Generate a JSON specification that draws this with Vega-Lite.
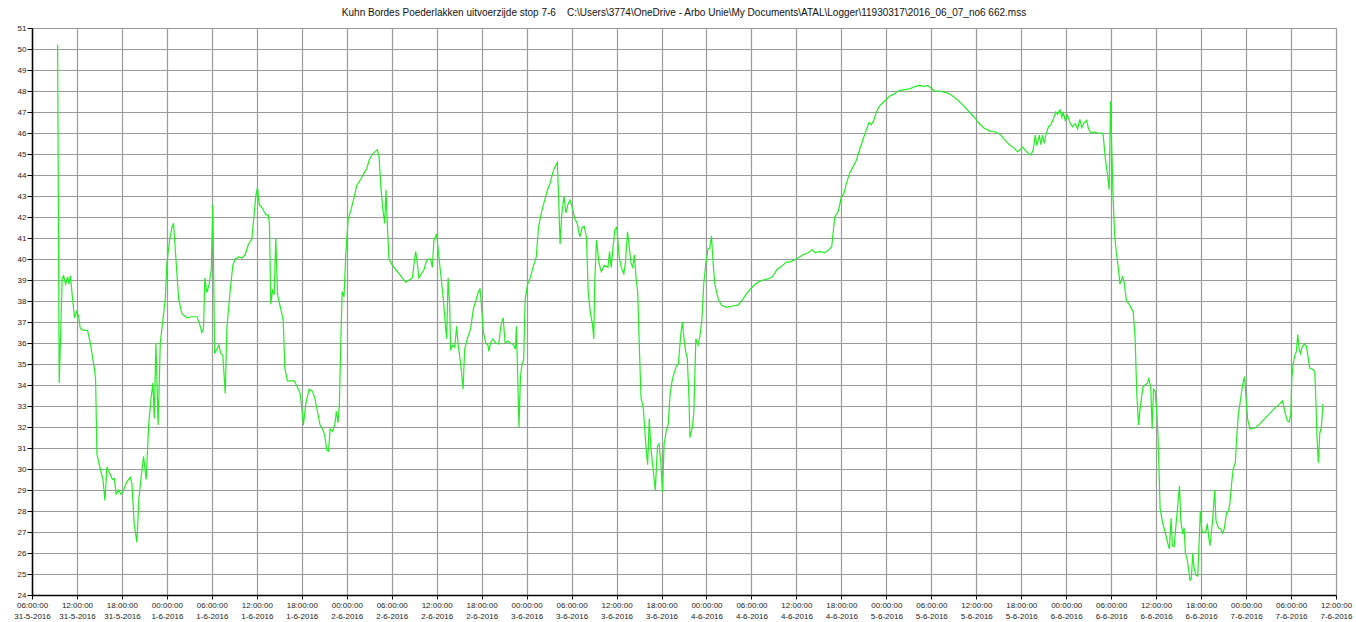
{
  "$schema": "https://vega.github.io/schema/vega-lite/v6.json",
  "autosize": "none",
  "width": 1304,
  "height": 567,
  "padding": {"left": 32, "top": 28, "right": 20, "bottom": 27},
  "background": "white",
  "title": {
    "text": "Kuhn Bordes  Poederlakken uitvoerzijde stop 7-6\u00a0\u00a0\u00a0\u00a0C:\\Users\\3774\\OneDrive - Arbo Unie\\My Documents\\ATAL\\Logger\\11930317\\2016_06_07_no6 662.mss",
    "font": "Liberation Sans Narrow, Liberation Sans, sans-serif",
    "fontSize": 10,
    "fontWeight": "normal",
    "color": "#111111",
    "anchor": "middle",
    "offset": 6
  },
  "config": {"view": {"stroke": null}},
  "data": {"values": [
    {"t":"2016-05-31T09:25","v":50.2},{"t":"2016-05-31T09:38","v":34.1},{"t":"2016-05-31T10:02","v":39.1},{"t":"2016-05-31T10:13","v":39.2},{"t":"2016-05-31T10:29","v":38.8},{"t":"2016-05-31T10:46","v":39.15},{"t":"2016-05-31T10:56","v":38.8},{"t":"2016-05-31T11:07","v":39.2},{"t":"2016-05-31T11:17","v":38.6},{"t":"2016-05-31T11:28","v":37.9},{"t":"2016-05-31T11:41","v":37.2},{"t":"2016-05-31T11:55","v":37.5},{"t":"2016-05-31T12:13","v":37.3},{"t":"2016-05-31T12:26","v":36.7},{"t":"2016-05-31T12:53","v":36.6},{"t":"2016-05-31T13:25","v":36.6},{"t":"2016-05-31T13:47","v":36.0},{"t":"2016-05-31T14:08","v":35.2},{"t":"2016-05-31T14:19","v":34.8},{"t":"2016-05-31T14:29","v":34.3},{"t":"2016-05-31T14:40","v":30.7},{"t":"2016-05-31T15:07","v":30.0},{"t":"2016-05-31T15:28","v":29.5},{"t":"2016-05-31T15:44","v":28.5},{"t":"2016-05-31T16:00","v":30.1},{"t":"2016-05-31T16:22","v":29.8},{"t":"2016-05-31T16:43","v":29.5},{"t":"2016-05-31T16:59","v":29.55},{"t":"2016-05-31T17:14","v":28.8},{"t":"2016-05-31T17:34","v":29.0},{"t":"2016-05-31T17:52","v":28.8},{"t":"2016-05-31T18:13","v":29.0},{"t":"2016-05-31T18:40","v":29.4},{"t":"2016-05-31T19:07","v":29.6},{"t":"2016-05-31T19:20","v":29.3},{"t":"2016-05-31T19:38","v":27.4},{"t":"2016-05-31T20:00","v":26.5},{"t":"2016-05-31T20:16","v":28.6},{"t":"2016-05-31T20:32","v":29.5},{"t":"2016-05-31T20:53","v":30.6},{"t":"2016-05-31T21:14","v":29.5},{"t":"2016-05-31T21:34","v":32.1},{"t":"2016-05-31T21:52","v":33.3},{"t":"2016-05-31T22:08","v":34.1},{"t":"2016-05-31T22:19","v":32.4},{"t":"2016-05-31T22:32","v":36.0},{"t":"2016-05-31T22:50","v":32.1},{"t":"2016-05-31T23:07","v":36.0},{"t":"2016-05-31T23:28","v":37.1},{"t":"2016-05-31T23:47","v":38.1},
    {"t":"2016-06-01T00:00","v":39.8},{"t":"2016-06-01T00:22","v":40.9},{"t":"2016-06-01T00:40","v":41.5},{"t":"2016-06-01T00:53","v":41.7},{"t":"2016-06-01T01:10","v":40.2},{"t":"2016-06-01T01:34","v":38.1},{"t":"2016-06-01T02:00","v":37.4},{"t":"2016-06-01T02:40","v":37.2},{"t":"2016-06-01T03:20","v":37.25},{"t":"2016-06-01T04:00","v":37.25},{"t":"2016-06-01T04:22","v":36.9},{"t":"2016-06-01T04:40","v":36.5},{"t":"2016-06-01T04:53","v":36.7},{"t":"2016-06-01T05:04","v":39.1},{"t":"2016-06-01T05:20","v":38.4},{"t":"2016-06-01T05:38","v":38.8},{"t":"2016-06-01T05:55","v":39.5},{"t":"2016-06-01T06:08","v":42.6},{"t":"2016-06-01T06:22","v":35.5},{"t":"2016-06-01T06:40","v":35.7},{"t":"2016-06-01T06:56","v":35.9},{"t":"2016-06-01T07:12","v":35.5},{"t":"2016-06-01T07:28","v":35.4},{"t":"2016-06-01T07:47","v":33.6},{"t":"2016-06-01T08:00","v":36.7},{"t":"2016-06-01T08:26","v":38.45},{"t":"2016-06-01T08:48","v":39.7},{"t":"2016-06-01T09:07","v":40.0},{"t":"2016-06-01T09:34","v":40.1},{"t":"2016-06-01T10:00","v":40.05},{"t":"2016-06-01T10:26","v":40.2},{"t":"2016-06-01T10:53","v":40.7},{"t":"2016-06-01T11:20","v":40.95},{"t":"2016-06-01T11:52","v":43.0},{"t":"2016-06-01T12:05","v":43.4},{"t":"2016-06-01T12:19","v":42.6},{"t":"2016-06-01T12:46","v":42.4},{"t":"2016-06-01T13:12","v":42.1},{"t":"2016-06-01T13:31","v":42.1},{"t":"2016-06-01T13:41","v":41.7},{"t":"2016-06-01T13:52","v":37.85},{"t":"2016-06-01T14:05","v":38.5},{"t":"2016-06-01T14:19","v":38.3},{"t":"2016-06-01T14:32","v":41.0},{"t":"2016-06-01T14:46","v":38.3},{"t":"2016-06-01T15:12","v":37.6},{"t":"2016-06-01T15:31","v":37.1},{"t":"2016-06-01T15:44","v":34.8},{"t":"2016-06-01T16:05","v":34.2},{"t":"2016-06-01T16:32","v":34.2},{"t":"2016-06-01T16:59","v":34.2},{"t":"2016-06-01T17:25","v":33.9},{"t":"2016-06-01T17:47","v":33.6},{"t":"2016-06-01T18:00","v":32.9},{"t":"2016-06-01T18:13","v":32.1},{"t":"2016-06-01T18:32","v":33.1},{"t":"2016-06-01T18:59","v":33.8},{"t":"2016-06-01T19:25","v":33.7},{"t":"2016-06-01T19:44","v":33.4},{"t":"2016-06-01T20:05","v":32.75},{"t":"2016-06-01T20:26","v":32.1},{"t":"2016-06-01T20:46","v":31.9},{"t":"2016-06-01T21:04","v":31.6},{"t":"2016-06-01T21:20","v":30.9},{"t":"2016-06-01T21:34","v":30.85},{"t":"2016-06-01T21:47","v":31.9},{"t":"2016-06-01T22:05","v":31.8},{"t":"2016-06-01T22:24","v":32.1},{"t":"2016-06-01T22:37","v":32.75},{"t":"2016-06-01T22:50","v":32.2},{"t":"2016-06-01T23:01","v":33.1},{"t":"2016-06-01T23:12","v":35.9},{"t":"2016-06-01T23:23","v":38.45},{"t":"2016-06-01T23:38","v":38.2},{"t":"2016-06-01T23:52","v":40.2},
    {"t":"2016-06-02T00:11","v":41.9},{"t":"2016-06-02T00:32","v":42.3},{"t":"2016-06-02T00:59","v":42.95},{"t":"2016-06-02T01:20","v":43.5},{"t":"2016-06-02T01:52","v":43.8},{"t":"2016-06-02T02:19","v":44.1},{"t":"2016-06-02T02:40","v":44.3},{"t":"2016-06-02T02:59","v":44.7},{"t":"2016-06-02T03:25","v":45.0},{"t":"2016-06-02T03:44","v":45.1},{"t":"2016-06-02T04:05","v":45.2},{"t":"2016-06-02T04:19","v":44.85},{"t":"2016-06-02T04:32","v":43.5},{"t":"2016-06-02T04:50","v":42.3},{"t":"2016-06-02T05:04","v":41.7},{"t":"2016-06-02T05:14","v":43.3},{"t":"2016-06-02T05:25","v":41.6},{"t":"2016-06-02T05:38","v":40.0},{"t":"2016-06-02T06:05","v":39.7},{"t":"2016-06-02T06:32","v":39.5},{"t":"2016-06-02T06:59","v":39.3},{"t":"2016-06-02T07:25","v":39.1},{"t":"2016-06-02T07:52","v":38.9},{"t":"2016-06-02T08:19","v":39.0},{"t":"2016-06-02T08:46","v":39.1},{"t":"2016-06-02T08:59","v":39.8},{"t":"2016-06-02T09:12","v":40.35},{"t":"2016-06-02T09:25","v":39.8},{"t":"2016-06-02T09:38","v":39.1},{"t":"2016-06-02T09:58","v":39.3},{"t":"2016-06-02T10:19","v":39.5},{"t":"2016-06-02T10:32","v":39.8},{"t":"2016-06-02T10:50","v":40.0},{"t":"2016-06-02T11:12","v":40.0},{"t":"2016-06-02T11:25","v":39.6},{"t":"2016-06-02T11:38","v":40.9},{"t":"2016-06-02T12:00","v":41.2},{"t":"2016-06-02T12:11","v":40.5},{"t":"2016-06-02T12:32","v":39.3},{"t":"2016-06-02T12:53","v":38.1},{"t":"2016-06-02T13:12","v":36.7},{"t":"2016-06-02T13:20","v":36.2},{"t":"2016-06-02T13:31","v":39.1},{"t":"2016-06-02T13:44","v":37.8},{"t":"2016-06-02T13:52","v":35.7},{"t":"2016-06-02T14:11","v":35.9},{"t":"2016-06-02T14:24","v":35.8},{"t":"2016-06-02T14:40","v":36.8},{"t":"2016-06-02T14:50","v":36.0},{"t":"2016-06-02T15:12","v":35.0},{"t":"2016-06-02T15:31","v":33.8},{"t":"2016-06-02T15:44","v":35.7},{"t":"2016-06-02T16:05","v":36.2},{"t":"2016-06-02T16:32","v":36.7},{"t":"2016-06-02T16:53","v":37.6},{"t":"2016-06-02T17:13","v":38.0},{"t":"2016-06-02T17:26","v":38.3},{"t":"2016-06-02T17:47","v":38.6},{"t":"2016-06-02T17:58","v":37.8},{"t":"2016-06-02T18:13","v":36.55},{"t":"2016-06-02T18:32","v":36.0},{"t":"2016-06-02T18:50","v":35.9},{"t":"2016-06-02T18:58","v":35.6},{"t":"2016-06-02T19:11","v":36.0},{"t":"2016-06-02T19:30","v":36.2},{"t":"2016-06-02T19:51","v":36.0},{"t":"2016-06-02T20:17","v":35.95},{"t":"2016-06-02T20:36","v":36.9},{"t":"2016-06-02T20:52","v":37.2},{"t":"2016-06-02T21:08","v":36.0},{"t":"2016-06-02T21:29","v":36.1},{"t":"2016-06-02T21:50","v":36.0},{"t":"2016-06-02T22:17","v":35.9},{"t":"2016-06-02T22:30","v":35.7},{"t":"2016-06-02T22:38","v":36.8},{"t":"2016-06-02T22:49","v":34.3},{"t":"2016-06-02T22:59","v":32.0},{"t":"2016-06-02T23:10","v":34.3},{"t":"2016-06-02T23:23","v":35.0},{"t":"2016-06-02T23:36","v":35.2},{"t":"2016-06-02T23:49","v":38.1},
    {"t":"2016-06-03T00:08","v":38.8},{"t":"2016-06-03T00:29","v":39.1},{"t":"2016-06-03T00:56","v":39.7},{"t":"2016-06-03T01:17","v":40.1},{"t":"2016-06-03T01:35","v":41.5},{"t":"2016-06-03T02:02","v":42.3},{"t":"2016-06-03T02:20","v":42.7},{"t":"2016-06-03T02:47","v":43.3},{"t":"2016-06-03T03:08","v":43.6},{"t":"2016-06-03T03:29","v":44.1},{"t":"2016-06-03T03:48","v":44.4},{"t":"2016-06-03T04:06","v":44.6},{"t":"2016-06-03T04:17","v":42.8},{"t":"2016-06-03T04:28","v":40.7},{"t":"2016-06-03T04:41","v":42.1},{"t":"2016-06-03T04:59","v":43.0},{"t":"2016-06-03T05:15","v":42.2},{"t":"2016-06-03T05:31","v":42.6},{"t":"2016-06-03T05:47","v":42.8},{"t":"2016-06-03T06:08","v":42.4},{"t":"2016-06-03T06:26","v":41.9},{"t":"2016-06-03T06:45","v":41.7},{"t":"2016-06-03T07:06","v":41.05},{"t":"2016-06-03T07:25","v":41.5},{"t":"2016-06-03T07:41","v":41.55},{"t":"2016-06-03T07:59","v":41.05},{"t":"2016-06-03T08:13","v":38.45},{"t":"2016-06-03T08:31","v":37.4},{"t":"2016-06-03T08:47","v":36.9},{"t":"2016-06-03T08:58","v":36.2},{"t":"2016-06-03T09:05","v":38.8},{"t":"2016-06-03T09:19","v":40.9},{"t":"2016-06-03T09:40","v":39.8},{"t":"2016-06-03T09:58","v":39.4},{"t":"2016-06-03T10:25","v":39.7},{"t":"2016-06-03T10:51","v":39.6},{"t":"2016-06-03T11:04","v":40.35},{"t":"2016-06-03T11:17","v":39.6},{"t":"2016-06-03T11:31","v":40.5},{"t":"2016-06-03T11:47","v":41.4},{"t":"2016-06-03T12:02","v":41.5},{"t":"2016-06-03T12:19","v":40.2},{"t":"2016-06-03T12:37","v":39.6},{"t":"2016-06-03T12:58","v":39.3},{"t":"2016-06-03T13:11","v":39.8},{"t":"2016-06-03T13:28","v":41.3},{"t":"2016-06-03T13:43","v":40.5},{"t":"2016-06-03T13:56","v":39.8},{"t":"2016-06-03T14:10","v":39.6},{"t":"2016-06-03T14:23","v":40.2},{"t":"2016-06-03T14:36","v":39.1},{"t":"2016-06-03T14:49","v":38.45},{"t":"2016-06-03T15:02","v":35.9},{"t":"2016-06-03T15:16","v":33.4},{"t":"2016-06-03T15:34","v":32.9},{"t":"2016-06-03T15:56","v":31.0},{"t":"2016-06-03T16:09","v":30.2},{"t":"2016-06-03T16:22","v":32.4},{"t":"2016-06-03T16:35","v":31.0},{"t":"2016-06-03T16:49","v":30.2},{"t":"2016-06-03T17:10","v":29.0},{"t":"2016-06-03T17:28","v":31.1},{"t":"2016-06-03T17:41","v":31.2},{"t":"2016-06-03T17:55","v":30.2},{"t":"2016-06-03T18:08","v":28.9},{"t":"2016-06-03T18:21","v":31.2},{"t":"2016-06-03T18:40","v":31.9},{"t":"2016-06-03T18:53","v":32.1},{"t":"2016-06-03T19:09","v":33.6},{"t":"2016-06-03T19:28","v":34.3},{"t":"2016-06-03T19:43","v":34.6},{"t":"2016-06-03T19:59","v":34.9},{"t":"2016-06-03T20:15","v":35.0},{"t":"2016-06-03T20:34","v":36.4},{"t":"2016-06-03T20:47","v":37.0},{"t":"2016-06-03T21:00","v":36.2},{"t":"2016-06-03T21:13","v":35.6},{"t":"2016-06-03T21:26","v":35.3},{"t":"2016-06-03T21:40","v":33.4},{"t":"2016-06-03T21:47","v":31.5},{"t":"2016-06-03T22:08","v":32.0},{"t":"2016-06-03T22:19","v":32.75},{"t":"2016-06-03T22:35","v":36.2},{"t":"2016-06-03T22:53","v":35.9},{"t":"2016-06-03T23:07","v":36.3},{"t":"2016-06-03T23:23","v":37.1},{"t":"2016-06-03T23:38","v":38.8},{"t":"2016-06-03T23:55","v":39.8},
    {"t":"2016-06-04T00:13","v":40.5},{"t":"2016-06-04T00:26","v":40.5},{"t":"2016-06-04T00:40","v":41.1},{"t":"2016-06-04T00:53","v":39.8},{"t":"2016-06-04T01:07","v":38.8},{"t":"2016-06-04T01:34","v":38.1},{"t":"2016-06-04T02:00","v":37.8},{"t":"2016-06-04T02:40","v":37.7},{"t":"2016-06-04T03:20","v":37.75},{"t":"2016-06-04T04:13","v":37.8},{"t":"2016-06-04T04:53","v":38.1},{"t":"2016-06-04T05:34","v":38.45},{"t":"2016-06-04T06:13","v":38.7},{"t":"2016-06-04T06:53","v":38.9},{"t":"2016-06-04T07:34","v":39.0},{"t":"2016-06-04T08:13","v":39.05},{"t":"2016-06-04T08:48","v":39.15},{"t":"2016-06-04T09:25","v":39.5},{"t":"2016-06-04T10:00","v":39.65},{"t":"2016-06-04T10:40","v":39.85},{"t":"2016-06-04T11:07","v":39.85},{"t":"2016-06-04T12:00","v":40.0},{"t":"2016-06-04T12:53","v":40.2},{"t":"2016-06-04T13:34","v":40.3},{"t":"2016-06-04T14:08","v":40.45},{"t":"2016-06-04T14:26","v":40.3},{"t":"2016-06-04T15:07","v":40.35},{"t":"2016-06-04T15:47","v":40.3},{"t":"2016-06-04T16:22","v":40.45},{"t":"2016-06-04T16:43","v":40.6},{"t":"2016-06-04T16:53","v":41.2},{"t":"2016-06-04T17:07","v":42.0},{"t":"2016-06-04T17:34","v":42.25},{"t":"2016-06-04T18:00","v":42.95},{"t":"2016-06-04T18:19","v":43.1},{"t":"2016-06-04T18:40","v":43.6},{"t":"2016-06-04T19:07","v":44.1},{"t":"2016-06-04T19:34","v":44.4},{"t":"2016-06-04T20:00","v":44.7},{"t":"2016-06-04T20:26","v":45.2},{"t":"2016-06-04T20:53","v":45.7},{"t":"2016-06-04T21:20","v":46.15},{"t":"2016-06-04T21:41","v":46.5},{"t":"2016-06-04T22:00","v":46.4},{"t":"2016-06-04T22:19","v":46.6},{"t":"2016-06-04T22:40","v":47.0},{"t":"2016-06-04T23:07","v":47.3},{"t":"2016-06-04T23:34","v":47.45},
    {"t":"2016-06-05T00:00","v":47.6},{"t":"2016-06-05T00:26","v":47.75},{"t":"2016-06-05T00:59","v":47.85},{"t":"2016-06-05T01:34","v":48.0},{"t":"2016-06-05T02:13","v":48.05},{"t":"2016-06-05T03:07","v":48.1},{"t":"2016-06-05T03:44","v":48.2},{"t":"2016-06-05T04:24","v":48.27},{"t":"2016-06-05T05:04","v":48.22},{"t":"2016-06-05T05:31","v":48.27},{"t":"2016-06-05T06:00","v":48.13},{"t":"2016-06-05T06:24","v":48.0},{"t":"2016-06-05T07:04","v":48.0},{"t":"2016-06-05T07:44","v":47.95},{"t":"2016-06-05T08:24","v":47.87},{"t":"2016-06-05T09:04","v":47.7},{"t":"2016-06-05T09:44","v":47.5},{"t":"2016-06-05T10:24","v":47.27},{"t":"2016-06-05T11:04","v":47.0},{"t":"2016-06-05T11:44","v":46.75},{"t":"2016-06-05T12:24","v":46.45},{"t":"2016-06-05T13:04","v":46.23},{"t":"2016-06-05T13:44","v":46.1},{"t":"2016-06-05T14:37","v":46.05},{"t":"2016-06-05T15:17","v":45.9},{"t":"2016-06-05T15:44","v":45.7},{"t":"2016-06-05T16:24","v":45.45},{"t":"2016-06-05T17:04","v":45.28},{"t":"2016-06-05T17:31","v":45.1},{"t":"2016-06-05T18:11","v":45.33},{"t":"2016-06-05T18:43","v":45.1},{"t":"2016-06-05T19:17","v":44.95},{"t":"2016-06-05T19:36","v":45.2},{"t":"2016-06-05T19:52","v":45.9},{"t":"2016-06-05T20:05","v":45.4},{"t":"2016-06-05T20:24","v":45.9},{"t":"2016-06-05T20:37","v":45.45},{"t":"2016-06-05T20:50","v":45.9},{"t":"2016-06-05T21:04","v":45.5},{"t":"2016-06-05T21:17","v":45.9},{"t":"2016-06-05T21:38","v":46.3},{"t":"2016-06-05T21:58","v":46.4},{"t":"2016-06-05T22:16","v":46.65},{"t":"2016-06-05T22:37","v":47.0},{"t":"2016-06-05T22:50","v":46.9},{"t":"2016-06-05T23:10","v":47.1},{"t":"2016-06-05T23:25","v":46.75},{"t":"2016-06-05T23:36","v":47.0},{"t":"2016-06-05T23:52","v":46.6},
    {"t":"2016-06-06T00:11","v":46.85},{"t":"2016-06-06T00:29","v":46.5},{"t":"2016-06-06T00:50","v":46.3},{"t":"2016-06-06T01:12","v":46.45},{"t":"2016-06-06T01:31","v":46.2},{"t":"2016-06-06T01:49","v":46.65},{"t":"2016-06-06T02:05","v":46.25},{"t":"2016-06-06T02:24","v":46.5},{"t":"2016-06-06T02:43","v":46.6},{"t":"2016-06-06T02:59","v":46.2},{"t":"2016-06-06T03:17","v":46.0},{"t":"2016-06-06T03:44","v":46.05},{"t":"2016-06-06T04:11","v":46.0},{"t":"2016-06-06T04:46","v":46.0},{"t":"2016-06-06T04:56","v":45.9},{"t":"2016-06-06T05:12","v":44.85},{"t":"2016-06-06T05:31","v":44.0},{"t":"2016-06-06T05:44","v":43.3},{"t":"2016-06-06T05:55","v":47.5},{"t":"2016-06-06T06:05","v":45.2},{"t":"2016-06-06T06:16","v":42.8},{"t":"2016-06-06T06:29","v":41.05},{"t":"2016-06-06T06:43","v":40.2},{"t":"2016-06-06T06:59","v":39.5},{"t":"2016-06-06T07:10","v":38.8},{"t":"2016-06-06T07:31","v":39.15},{"t":"2016-06-06T07:44","v":38.9},{"t":"2016-06-06T08:02","v":38.0},{"t":"2016-06-06T08:24","v":37.85},{"t":"2016-06-06T08:46","v":37.6},{"t":"2016-06-06T08:56","v":37.5},{"t":"2016-06-06T09:12","v":36.2},{"t":"2016-06-06T09:25","v":33.6},{"t":"2016-06-06T09:39","v":32.1},{"t":"2016-06-06T09:52","v":32.9},{"t":"2016-06-06T10:14","v":33.9},{"t":"2016-06-06T10:32","v":34.0},{"t":"2016-06-06T10:51","v":34.1},{"t":"2016-06-06T11:01","v":34.3},{"t":"2016-06-06T11:17","v":33.9},{"t":"2016-06-06T11:28","v":31.9},{"t":"2016-06-06T11:39","v":33.8},{"t":"2016-06-06T11:52","v":33.7},{"t":"2016-06-06T12:05","v":32.75},{"t":"2016-06-06T12:16","v":31.4},{"t":"2016-06-06T12:32","v":28.1},{"t":"2016-06-06T12:53","v":27.4},{"t":"2016-06-06T13:12","v":27.0},{"t":"2016-06-06T13:31","v":26.5},{"t":"2016-06-06T13:46","v":26.2},{"t":"2016-06-06T14:00","v":27.65},{"t":"2016-06-06T14:10","v":26.35},{"t":"2016-06-06T14:24","v":26.3},{"t":"2016-06-06T14:40","v":27.4},{"t":"2016-06-06T14:53","v":28.25},{"t":"2016-06-06T15:07","v":29.2},{"t":"2016-06-06T15:17","v":27.55},{"t":"2016-06-06T15:33","v":26.9},{"t":"2016-06-06T15:44","v":27.2},{"t":"2016-06-06T15:54","v":26.0},{"t":"2016-06-06T16:10","v":25.65},{"t":"2016-06-06T16:21","v":25.15},{"t":"2016-06-06T16:32","v":24.7},{"t":"2016-06-06T16:42","v":24.8},{"t":"2016-06-06T16:53","v":26.0},{"t":"2016-06-06T17:04","v":25.3},{"t":"2016-06-06T17:17","v":24.95},{"t":"2016-06-06T17:33","v":24.9},{"t":"2016-06-06T17:43","v":26.35},{"t":"2016-06-06T17:54","v":28.0},{"t":"2016-06-06T18:07","v":27.05},{"t":"2016-06-06T18:23","v":26.95},{"t":"2016-06-06T18:39","v":27.05},{"t":"2016-06-06T18:50","v":27.4},{"t":"2016-06-06T19:00","v":26.8},{"t":"2016-06-06T19:11","v":26.35},{"t":"2016-06-06T19:22","v":26.95},{"t":"2016-06-06T19:32","v":27.55},{"t":"2016-06-06T19:49","v":29.0},{"t":"2016-06-06T19:59","v":27.55},{"t":"2016-06-06T20:18","v":27.2},{"t":"2016-06-06T20:37","v":27.15},{"t":"2016-06-06T20:52","v":26.95},{"t":"2016-06-06T21:05","v":27.15},{"t":"2016-06-06T21:24","v":27.9},{"t":"2016-06-06T21:40","v":28.0},{"t":"2016-06-06T21:51","v":28.4},{"t":"2016-06-06T22:04","v":29.3},{"t":"2016-06-06T22:17","v":30.0},{"t":"2016-06-06T22:34","v":30.3},{"t":"2016-06-06T22:44","v":31.4},{"t":"2016-06-06T22:58","v":32.6},{"t":"2016-06-06T23:16","v":33.3},{"t":"2016-06-06T23:32","v":34.0},{"t":"2016-06-06T23:48","v":34.4},{"t":"2016-06-06T23:59","v":33.45},
    {"t":"2016-06-07T00:12","v":32.4},{"t":"2016-06-07T00:31","v":31.9},{"t":"2016-06-07T01:10","v":31.95},{"t":"2016-06-07T01:50","v":32.15},{"t":"2016-06-07T02:30","v":32.4},{"t":"2016-06-07T03:10","v":32.65},{"t":"2016-06-07T03:50","v":32.9},{"t":"2016-06-07T04:30","v":33.1},{"t":"2016-06-07T04:52","v":33.25},{"t":"2016-06-07T05:10","v":32.75},{"t":"2016-06-07T05:29","v":32.3},{"t":"2016-06-07T05:45","v":32.25},{"t":"2016-06-07T05:58","v":32.6},{"t":"2016-06-07T06:06","v":34.3},{"t":"2016-06-07T06:17","v":35.0},{"t":"2016-06-07T06:30","v":35.4},{"t":"2016-06-07T06:43","v":35.6},{"t":"2016-06-07T06:54","v":36.4},{"t":"2016-06-07T07:05","v":35.7},{"t":"2016-06-07T07:16","v":35.5},{"t":"2016-06-07T07:31","v":35.85},{"t":"2016-06-07T07:47","v":35.95},{"t":"2016-06-07T08:03","v":35.85},{"t":"2016-06-07T08:16","v":35.35},{"t":"2016-06-07T08:30","v":34.8},{"t":"2016-06-07T08:51","v":34.75},{"t":"2016-06-07T09:10","v":34.65},{"t":"2016-06-07T09:17","v":33.6},{"t":"2016-06-07T09:28","v":31.5},{"t":"2016-06-07T09:39","v":30.3},{"t":"2016-06-07T09:50","v":31.7},{"t":"2016-06-07T10:03","v":32.0},{"t":"2016-06-07T10:16","v":33.1}
  ]},
  "mark": {"type": "line", "color": "#22ee22", "strokeWidth": 1.2},
  "encoding": {
    "x": {
      "field": "t", "type": "temporal",
      "scale": {"domain": [{"year": 2016, "month": 5, "date": 31, "hours": 6}, {"year": 2016, "month": 6, "date": 7, "hours": 12}], "nice": false},
      "axis": {
        "title": null,
        "values": [
          {"year": 2016, "month": 5, "date": 31, "hours": 6}, {"year": 2016, "month": 5, "date": 31, "hours": 12}, {"year": 2016, "month": 5, "date": 31, "hours": 18},
          {"year": 2016, "month": 6, "date": 1, "hours": 0}, {"year": 2016, "month": 6, "date": 1, "hours": 6}, {"year": 2016, "month": 6, "date": 1, "hours": 12}, {"year": 2016, "month": 6, "date": 1, "hours": 18},
          {"year": 2016, "month": 6, "date": 2, "hours": 0}, {"year": 2016, "month": 6, "date": 2, "hours": 6}, {"year": 2016, "month": 6, "date": 2, "hours": 12}, {"year": 2016, "month": 6, "date": 2, "hours": 18},
          {"year": 2016, "month": 6, "date": 3, "hours": 0}, {"year": 2016, "month": 6, "date": 3, "hours": 6}, {"year": 2016, "month": 6, "date": 3, "hours": 12}, {"year": 2016, "month": 6, "date": 3, "hours": 18},
          {"year": 2016, "month": 6, "date": 4, "hours": 0}, {"year": 2016, "month": 6, "date": 4, "hours": 6}, {"year": 2016, "month": 6, "date": 4, "hours": 12}, {"year": 2016, "month": 6, "date": 4, "hours": 18},
          {"year": 2016, "month": 6, "date": 5, "hours": 0}, {"year": 2016, "month": 6, "date": 5, "hours": 6}, {"year": 2016, "month": 6, "date": 5, "hours": 12}, {"year": 2016, "month": 6, "date": 5, "hours": 18},
          {"year": 2016, "month": 6, "date": 6, "hours": 0}, {"year": 2016, "month": 6, "date": 6, "hours": 6}, {"year": 2016, "month": 6, "date": 6, "hours": 12}, {"year": 2016, "month": 6, "date": 6, "hours": 18},
          {"year": 2016, "month": 6, "date": 7, "hours": 0}, {"year": 2016, "month": 6, "date": 7, "hours": 6}, {"year": 2016, "month": 6, "date": 7, "hours": 12}
        ],
        "labelExpr": "[timeFormat(datum.value, '%H:%M:%S'), timeFormat(datum.value, '%-d-%-m-%Y')]",
        "labelFont": "Liberation Sans Narrow, Liberation Sans, sans-serif",
        "labelFontSize": 8,
        "labelLineHeight": 11,
        "labelColor": "#222222",
        "labelPadding": 2,
        "labelOverlap": false,
        "labelFlush": false,
        "domainColor": "#000000",
        "domainWidth": 1.5,
        "tickColor": "#000000",
        "tickSize": 4,
        "gridColor": "#9a9a9a",
        "gridWidth": 1.2,
        "gridOpacity": 1
      }
    },
    "y": {
      "field": "v", "type": "quantitative",
      "scale": {"domain": [24, 51], "nice": false, "zero": false},
      "axis": {
        "title": null,
        "values": [24,25,26,27,28,29,30,31,32,33,34,35,36,37,38,39,40,41,42,43,44,45,46,47,48,49,50,51],
        "labelFont": "Liberation Sans Narrow, Liberation Sans, sans-serif",
        "labelFontSize": 8,
        "labelColor": "#222222",
        "labelPadding": 1,
        "domainColor": "#000000",
        "domainWidth": 1.5,
        "tickColor": "#000000",
        "tickSize": 5,
        "gridColor": "#9a9a9a",
        "gridWidth": 1.2,
        "gridOpacity": 1
      }
    }
  }
}
